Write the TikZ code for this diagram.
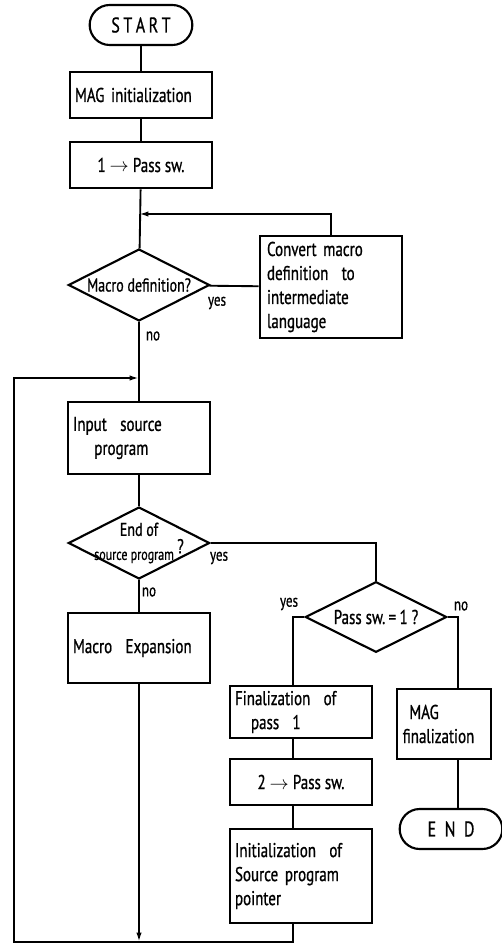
\documentclass[tikz,border=0pt]{standalone}
\usepackage{fontspec}
\setmainfont{PT Sans}[FakeStretch=0.75, FakeBold=0.8]
\usetikzlibrary{shapes.geometric, arrows.meta, positioning, calc}

\begin{document}
\begin{tikzpicture}[
      x=0.75pt, y=-0.75pt,
      line width=1.4pt,
      font=\fontsize{15}{18}\selectfont,
      proc/.style={rectangle, draw, line width=1.6pt, minimum width=107pt, minimum height=35pt, inner sep=4pt},
      term/.style={rectangle, draw, line width=1.6pt, rounded corners=15pt, minimum width=77pt, minimum height=30pt},
      decision/.style={diamond, draw, line width=1.6pt, minimum width=106pt, minimum height=54pt, inner sep=0pt},
      lab/.style={font=\fontsize{13}{15}\selectfont, inner sep=1pt}
    ]
    \useasboundingbox (0,0) rectangle (502,944);

    % main column
    \node[term, font=\fontsize{16}{18}\selectfont] (start) at (141,25) {S\,T\,A\,R\,T};
    \node[proc, text width=99pt, align=left] (maginit) at (141,95) {MAG initialization};
    \node[proc, align=center] (pass1) at (141,165) {1 $\rightarrow$ Pass sw.};
    \node[decision, label={[align=center]center:{\fontsize{14}{15}\selectfont Macro definition?}}] (macdef) at (139,285) {};
    \node[proc, minimum height=71pt, text width=96pt, align=left] (convert) at (331,287) {Convert macro\\definition\ \ to\\intermediate\\language};
    \node[proc, minimum height=54pt, text width=99pt, align=left] (inputsrc) at (139,438) {Input\ \ source\\\hspace{16pt}program};
    \node[decision, label={[align=center]center:{\fontsize{14}{13}\selectfont End of\\{\fontsize{12}{13}\selectfont source program}\,\raisebox{5pt}{?}}}] (endsrc) at (139,543) {};
    \node[proc, minimum height=53pt, text width=99pt, align=left] (macexp) at (139,648) {Macro\ \ Expansion};

    % right part
    \node[decision, minimum width=106pt, minimum height=53pt, label={[align=center]center:{Pass sw.\,=\,1 ?}}] (passeq) at (376,617) {};
    \node[proc, text width=99pt, align=left] (finpass) at (301,712) {Finalization\ \ of\\\hspace{12pt}pass\ \ 1};
    \node[proc, align=center] (pass2) at (301,782) {2 $\rightarrow$ Pass sw.};
    \node[proc, minimum height=71pt, text width=99pt, align=left] (initptr) at (301,876) {Initialization\ \ of\\Source program\\pointer};
    \node[proc, minimum width=70pt, minimum height=53pt, text width=62pt, align=left] (magfin) at (444,724) {\ MAG\\finalization};
    \node[term, font=\fontsize{16}{18}\selectfont] (endnode) at (451,829) {E\ \ N\ \ D};

    % helper points
    \coordinate (j1) at (139,214);
    \coordinate (j2) at (139,378);
    \coordinate (b1) at (139,942);
    \coordinate (c1) at (14,942);
    \coordinate (ycol) at (293,0);
    \coordinate (ncol) at (458,0);

    % labels
    \node[lab] (yes1) at (217,303) {yes};
    \node[lab] (no1) at (153,336) {no};
    \node[lab] (yes2) at (219,558) {yes};
    \node[lab] (no2) at (149,592) {no};
    \node[lab] (yes3) at (289,604) {yes};
    \node[lab] (no3) at (461,606) {no};

    % connectors
    \draw (start) -- (maginit);
    \draw (maginit) -- (pass1);
    \draw (pass1) -- (macdef);
    \draw (macdef) -- (convert);
    \draw[-{Latex[length=7pt,width=4pt]}] (convert.north) |- (j1);
    \draw (macdef) -- (inputsrc);
    \draw (inputsrc) -- (endsrc);
    \draw (endsrc) -- (macexp);
    \draw (endsrc.east) -| (passeq.north);
    \draw[-{Latex[length=7pt,width=4pt]}] (macexp.south) -- (b1);
    \draw (initptr.south -| ycol) |- (b1);
    \draw[-{Latex[length=7pt,width=4pt]}] (b1) -- (c1) |- (j2);
    \draw (passeq.west) -| (finpass.north -| ycol);
    \draw (finpass.south -| ycol) -- (pass2.north -| ycol);
    \draw (pass2.south -| ycol) -- (initptr.north -| ycol);
    \draw (passeq.east) -| (magfin.north -| ncol);
    \draw (magfin.south -| ncol) -- (endnode.north -| ncol);
  \end{tikzpicture}
\end{document}
